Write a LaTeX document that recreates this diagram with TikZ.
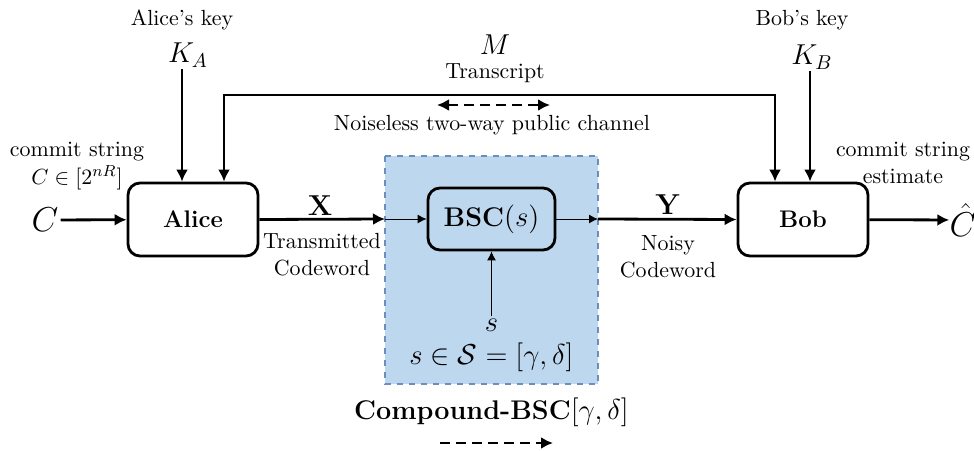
\documentclass[tikz,border=0pt,11pt]{standalone}
\usepackage{amssymb,amsmath}
\usepackage{tikz}
\usetikzlibrary{arrows.meta,positioning,shapes}
\definecolor{chanfill}{RGB}{189,215,238}
\definecolor{chanedge}{RGB}{108,142,191}

\begin{document}
\begin{tikzpicture}[x=0.5pt,y=-0.5pt]
	\tikzset{party/.style={draw,rounded corners=6pt,line width=1.4pt,minimum width=65pt,minimum height=36.5pt,font=\large\bfseries}}
	\tikzset{flow/.style={line width=1.4pt,-{Latex[length=6pt,width=6pt]}}}
	\tikzset{thinflow/.style={line width=0.5pt,-{Latex[length=4.5pt,width=4.5pt]}}}
	\tikzset{lbl/.style={align=center,inner sep=1pt}}
	\useasboundingbox (0,0) rectangle (974,450);
	% compound channel
	\fill[chanfill] (385,156) rectangle (598,384);
	\draw[chanedge,dashed,line width=0.6pt] (385,156) rectangle (598,384);
	\node[party] (alice) at (193,219.5) {Alice};
	\node[party] (bob) at (803,219.5) {Bob};
	\node[party,minimum width=63.5pt,minimum height=31pt,font=\fontsize{13.5}{16}\selectfont\bfseries] (bsc) at (491.5,219) {BSC$(s)$};
	\coordinate (chin) at (385,219);
	\coordinate (chout) at (598,219);
	% inputs and outputs
	\node[lbl] (cin) at (45,220) {\LARGE $C$};
	\node[lbl] (cinlbl) at (77,166) {commit string\\$C\in[2^{nR}]$};
	\node[lbl,inner sep=0pt] (chat) at (963,220) {\LARGE $\hat{C}$};
	\node[lbl] (chatlbl) at (903,163) {commit string\\estimate};
	\draw[flow] (cin) -- (alice);
	\draw[flow] (bob) -- (chat);
	% keys
	\node[lbl] (ka) at (188,55) {\Large $K_A$};
	\node[lbl] (kalbl) at (182,20) {Alice's key};
	\node[lbl] (kb) at (812,57) {\Large $K_B$};
	\node[lbl] (kblbl) at (802,20) {Bob's key};
	\draw[flow] ([xshift=-3pt]ka.south) -- ([xshift=-3pt]ka.south |- alice.north);
	\draw[flow] ([xshift=-1pt]kb.south) -- ([xshift=-1pt]kb.south |- bob.north);
	% public channel
	\coordinate (tl) at (224,95);
	\coordinate (tr) at (775,95);
	\draw[line width=1.4pt,{Latex[length=6pt,width=6pt]}-{Latex[length=6pt,width=6pt]}] (tl |- alice.north) -- (tl) -- (tr) -- (tr |- bob.north);
	\node[lbl] (m) at (495,45) {\Large $M$};
	\node[lbl] (mlbl) at (495,73) {Transcript};
	\coordinate (pl) at (437,105);
	\coordinate (pr) at (550,105);
	\draw[line width=1.4pt,dash pattern=on 5pt off 3pt,{Latex[length=6pt,width=6pt]}-{Latex[length=6pt,width=6pt]}] (pl) -- (pr);
	\node[lbl] (publbl) at (492,125) {Noiseless two-way public channel};
	% main channel
	\draw[flow] (alice.east) -- (chin);
	\draw[thinflow] (chin) -- (bsc.west);
	\draw[thinflow] (bsc.east) -- (chout);
	\draw[flow] (chout) -- (bob.west);
	\node[lbl] (x) at (320,206) {\Large $\mathbf{X}$};
	\node[lbl] (xlbl) at (322,255) {Transmitted\\Codeword};
	\node[lbl] (y) at (668,205) {\Large $\mathbf{Y}$};
	\node[lbl] (ylbl) at (668,257) {Noisy\\Codeword};
	% state
	\node[lbl] (s) at (491.5,325) {\Large $s$};
	\node[lbl] (sset) at (491.5,357) {\Large $s\in\mathcal{S}=[\gamma,\delta]$};
	\draw[thinflow] (s.north) -- (bsc.south);
	\node[lbl] (cmp) at (491.5,412) {\fontsize{13.5}{16}\selectfont\textbf{Compound-BSC}$[\gamma,\delta]$};
	\coordinate (dl) at (440,443);
	\coordinate (dr) at (553,443);
	\draw[line width=1.4pt,dash pattern=on 5pt off 3pt,-{Latex[length=6pt,width=6pt]}] (dl) -- (dr);
\end{tikzpicture}
\end{document}
